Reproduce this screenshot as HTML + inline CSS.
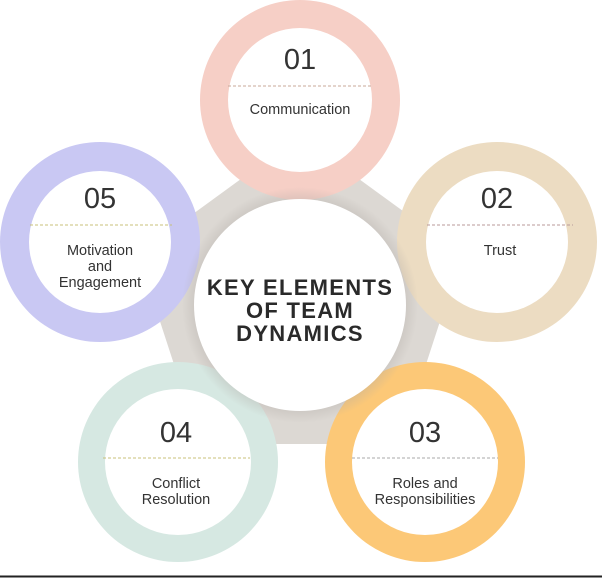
<!DOCTYPE html>
<html><head><meta charset="utf-8"><style>
html,body{margin:0;padding:0;background:#fff;}
svg{display:block;}
text{font-family:"Liberation Sans",sans-serif;fill:#333;}
.n{font-size:29px;text-anchor:middle;}
.l{font-size:14.5px;text-anchor:middle;}
.c{font-size:22px;font-weight:bold;text-anchor:middle;letter-spacing:1.3px;fill:#2a2a2a;}
</style></head><body>
<svg width="602" height="578" viewBox="0 0 602 578">
<defs>
<radialGradient id="sh" cx="50%" cy="50%" r="50%">
<stop offset="82%" stop-color="#b0aaa5" stop-opacity="0.55"/>
<stop offset="100%" stop-color="#b0aaa5" stop-opacity="0"/>
</radialGradient>
</defs>
<polygon points="300,136 462,254 400,444 200,444 138,254" fill="#dcd8d3"/>
<g>
<circle cx="300" cy="100" r="100" fill="#f6cfc6"/><circle cx="300" cy="100" r="72" fill="#fff"/>
<circle cx="497" cy="242" r="100" fill="#ecdcc2"/><circle cx="497" cy="242" r="71" fill="#fff"/>
<circle cx="100" cy="242" r="100" fill="#c9c8f3"/><circle cx="100" cy="242" r="71" fill="#fff"/>
<circle cx="178" cy="462" r="100" fill="#d6e8e2"/><circle cx="178" cy="462" r="73" fill="#fff"/>
<circle cx="425" cy="462" r="100" fill="#fcc877"/><circle cx="425" cy="462" r="73" fill="#fff"/>
</g>
<circle cx="300" cy="305" r="118" fill="url(#sh)"/>
<circle cx="300" cy="305" r="106" fill="#fff"/>
<g stroke-dasharray="3,2" stroke-width="1">
<line x1="228" y1="86" x2="372" y2="86" stroke="#c9a89a"/>
<line x1="427" y1="225" x2="573" y2="225" stroke="#b89a9a"/>
<line x1="30" y1="225" x2="172" y2="225" stroke="#c8c07a"/>
<line x1="103" y1="458" x2="250" y2="458" stroke="#c8c07a"/>
<line x1="352" y1="458" x2="498" y2="458" stroke="#a8a8a8"/>
</g>
<text class="n" x="300" y="69">01</text>
<text class="l" x="300" y="114">Communication</text>
<text class="n" x="497" y="208">02</text>
<text class="l" x="500" y="255">Trust</text>
<text class="n" x="100" y="208">05</text>
<text class="l" x="100" y="255">Motivation</text>
<text class="l" x="100" y="271">and</text>
<text class="l" x="100" y="287">Engagement</text>
<text class="n" x="176" y="442">04</text>
<text class="l" x="176" y="488">Conflict</text>
<text class="l" x="176" y="504">Resolution</text>
<text class="n" x="425" y="442">03</text>
<text class="l" x="425" y="488">Roles and</text>
<text class="l" x="425" y="504">Responsibilities</text>
<text class="c" x="300" y="295">KEY ELEMENTS</text>
<text class="c" x="300" y="318">OF TEAM</text>
<text class="c" x="300" y="341">DYNAMICS</text>
<line x1="0" y1="576.5" x2="602" y2="576.5" stroke="#222" stroke-width="2"/>
</svg>
</body></html>
